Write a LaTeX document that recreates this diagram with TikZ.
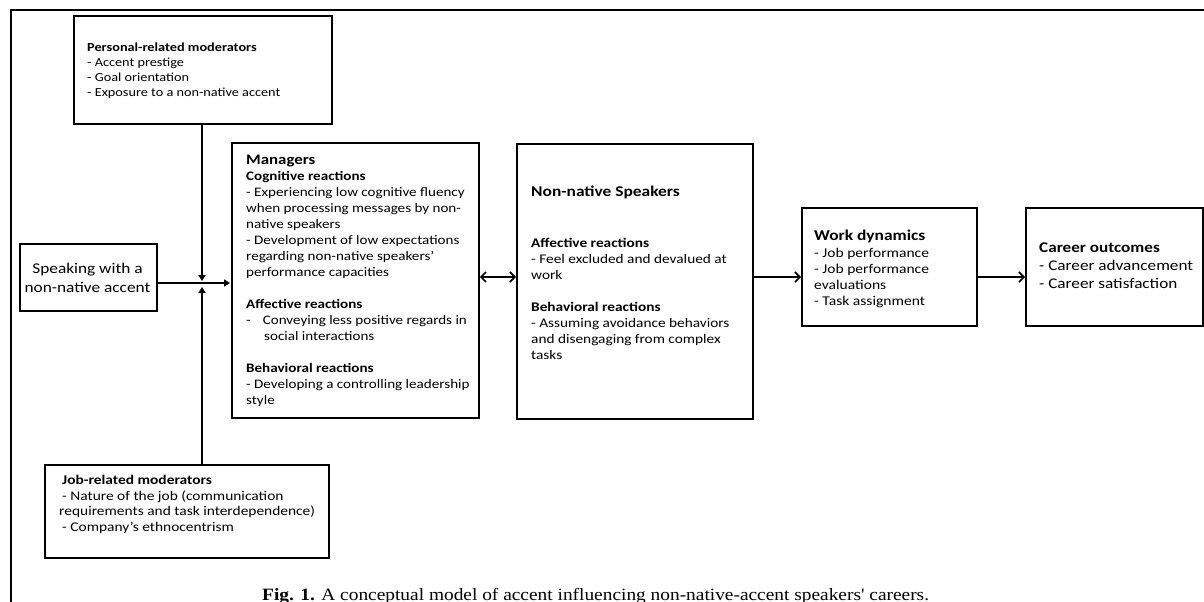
\documentclass[tikz,border=0pt]{standalone}
\usepackage{fontspec}
\setmainfont[FakeStretch=1.16]{Carlito}
\newfontfamily\capfont[FakeStretch=1.12]{Liberation Serif}
\usetikzlibrary{arrows.meta}
\begin{document}
\begin{tikzpicture}[x=1pt,y=-1pt,
  box/.style={draw, line width=1.8pt, inner sep=0pt, anchor=north west, rectangle},
  txt/.style={anchor=north west, inner sep=0pt, align=left},
  small/.style={font=\fontsize{12.3}{15}\selectfont},
  mid/.style={font=\fontsize{13}{16}\selectfont},
  conn/.style={line width=1.6pt},
  tri/.style={conn, -{Triangle[length=6pt,width=7pt]}},
  barb/.style={conn, -{Straight Barb[length=5pt,width=10pt,line width=1.6pt]}},
  dbarb/.style={conn, {Straight Barb[length=5pt,width=10pt,line width=1.6pt]}-{Straight Barb[length=5pt,width=10pt,line width=1.6pt]}}
]
\useasboundingbox (0,0) rectangle (1204,602);
% outer frame
\draw[line width=2.6pt] (11,602) -- (11,10) -- (1204,10);

% boxes
\node[box, minimum width=258pt, minimum height=108pt] (pers) at (73,15) {};
\node[box, minimum width=137pt, minimum height=67pt] (speak) at (19,243) {};
\node[box, minimum width=247pt, minimum height=275pt] (mgr) at (231,142) {};
\node[box, minimum width=236pt, minimum height=275pt] (nns) at (516,143) {};
\node[box, minimum width=175pt, minimum height=118pt] (wd) at (801,207) {};
\node[box, minimum width=177pt, minimum height=118pt] (co) at (1025,207) {};
\node[box, minimum width=284pt, minimum height=93pt] (job) at (44,464) {};

% texts
\node[txt, small] (perst) at (87,42.6) {\textbf{Personal-related moderators}\\- Accent prestige\\- Goal orientation\\- Exposure to a non-native accent};

\node[inner sep=0pt, align=center, font=\fontsize{14.9}{19}\selectfont] (speakt) at (87.5,278) {Speaking with a\\non-native accent};

\node[txt, mid] (mgrt) at (246,154.5) {{\fontsize{14.5}{16}\selectfont\bfseries Managers}\\
\textbf{Cognitive reactions}\\
- Experiencing low cognitive fluency\\
when processing messages by non-\\
native speakers\\
- Development of low expectations\\
regarding non-native speakers’\\
performance capacities\\[16pt]
\textbf{Affective reactions}\\
-\hspace{12pt}Conveying less positive regards in\\
\hspace{18pt}social interactions\\[16pt]
\textbf{Behavioral reactions}\\
- Developing a controlling leadership\\
style};

\node[txt, font=\fontsize{13.2}{16}\selectfont] (nnst) at (531,186) {{\fontsize{15}{16}\selectfont\bfseries Non-native Speakers}\\[35pt]
\textbf{Affective reactions}\\
- Feel excluded and devalued at\\
work\\[16pt]
\textbf{Behavioral reactions}\\
- Assuming avoidance behaviors\\
and disengaging from complex\\
tasks};

\node[txt, font=\fontsize{13.4}{16}\selectfont] (wdt) at (814,229.3) {{\fontsize{15}{16}\selectfont\bfseries Work dynamics}\\[1pt]
- Job performance\\
- Job performance\\
evaluations\\
- Task assignment};

\node[txt, font=\fontsize{14.8}{18}\selectfont] (cot) at (1039,242.5) {\textbf{Career outcomes}\\
- Career advancement\\
- Career satisfaction};

\node[txt, font=\fontsize{13.3}{15.5}\selectfont] (jobt) at (59,475.4) {\hspace{3pt}\textbf{Job-related moderators}\\
\hspace{3pt}- Nature of the job (communication\\
requirements and task interdependence)\\
\hspace{3pt}- Company’s ethnocentrism};

\node[anchor=base west, inner sep=0pt, font=\capfont\fontsize{17.3}{20}\selectfont] (cap) at (262,600) {\textbf{Fig. 1.} A conceptual model of accent influencing non-native-accent speakers' careers.};

% connectors
\coordinate (jt) at (202,281);
\coordinate (jc) at (202,283);
\coordinate (jb) at (202,287);
\coordinate (row) at (0,277);
\draw[tri] (pers.south -| jt) -- (jt);
\draw[tri] (job.north -| jb) -- (jb);
\draw[tri] (speak.east |- jc) -- ([xshift=-1pt]mgr.west |- jc);
\draw[dbarb] (mgr.east |- row) -- (nns.west |- row);
\draw[barb] (nns.east |- row) -- (wd.west |- row);
\draw[barb] (wd.east |- row) -- (co.west |- row);
\end{tikzpicture}
\end{document}
